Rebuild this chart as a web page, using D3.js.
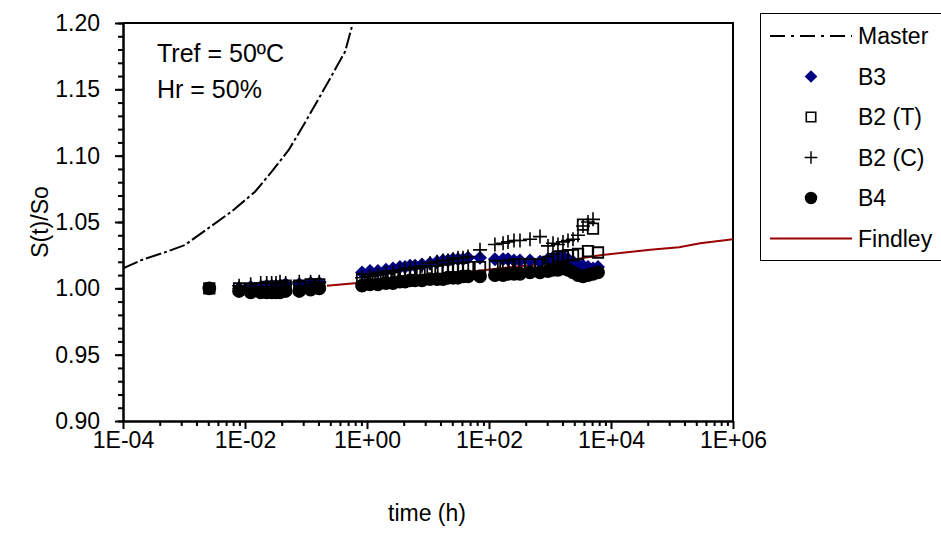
<!DOCTYPE html>
<html>
<head>
<meta charset="utf-8">
<script src="https://cdn.jsdelivr.net/npm/d3@7.9.0/dist/d3.min.js"></script>
<style>
  body { margin: 0; background: #fff; }
  svg { display: block; font-family: "Liberation Sans", Arial, sans-serif; }
</style>
</head>
<body>
<svg id="chart" width="941" height="556"></svg>
<script>
// ---- data ----
const xTickLabels = ['1E-04', '1E-02', '1E+00', '1E+02', '1E+04', '1E+06'];
const xTickValues = [1e-4, 1e-2, 1, 1e2, 1e4, 1e6];
const yTickValues = [0.90, 0.95, 1.00, 1.05, 1.10, 1.15, 1.20];

const masterTime  = [1e-4, 2.03e-4, 4.9e-4, 1.04e-3, 2.5e-3, 6.0e-3, 0.0146, 0.0274, 0.052, 0.085, 0.141, 0.232, 0.437, 0.575, 0.62];
const masterValue = [1.015, 1.0214, 1.0272, 1.0327, 1.0453, 1.0578, 1.0728, 1.0879, 1.1043, 1.1206, 1.1382, 1.1558, 1.1784, 1.1985, 1.2045];

const findleyTime  = [0.22, 0.7, 10, 240, 1040, 6600, 44000, 130000, 290000, 1e6];
const findleyValue = [1.002, 1.004, 1.009, 1.016, 1.019, 1.025, 1.029, 1.031, 1.034, 1.037];

// measurement times of the three groups of tests
const timeFirst = [0.0026];
const timeG1 = [0.008, 0.0124, 0.0181, 0.0227, 0.0274, 0.0322, 0.0375, 0.0464, 0.0776, 0.119, 0.165];
const timeG2 = [0.83, 1.12, 1.51, 2.05, 2.67, 3.47, 4.2, 5.07, 6.12, 7.98, 10.8, 14.1, 17.6, 21.3, 25.7, 31.0, 37.5, 45.3, 71.2, 125, 170, 205, 257, 322, 470, 686];
const timeG3 = [927, 1120, 1352, 1633, 1972, 2382, 2877, 3475, 4197, 5070, 6120];

const b3G1 = [1.000, 1.001, 1.001, 1.002, 1.002, 1.002, 1.002, 1.003, 1.003, 1.004, 1.004];
const b3G2 = [1.012, 1.013, 1.013, 1.014, 1.015, 1.016, 1.016, 1.017, 1.017, 1.018, 1.019, 1.020, 1.021, 1.021, 1.022, 1.022, 1.022, 1.023, 1.023, 1.022, 1.022, 1.022, 1.021, 1.021, 1.021, 1.020];
const b3G3 = [1.022, 1.023, 1.024, 1.024, 1.022, 1.020, 1.018, 1.017, 1.016, 1.015, 1.016];

const b2tFirst = [1.000];
const b2tG1 = [1.000, 1.000, 1.000, 1.001, 1.001, 1.001, 1.001, 1.002, 1.002, 1.003, 1.003];
const b2tG2 = [1.007, 1.007, 1.008, 1.009, 1.009, 1.010, 1.010, 1.011, 1.011, 1.012, 1.013, 1.013, 1.014, 1.014, 1.015, 1.015, 1.015, 1.016, 1.016, 1.017, 1.017, 1.017, 1.018, 1.018, 1.018, 1.018];
const b2tG3 = [1.020, 1.022, 1.024, 1.024, 1.025, 1.025, 1.026, 1.048, 1.028, 1.045, 1.027];

const b2cG1 = [1.002, 1.003, 1.004, 1.004, 1.004, 1.004, 1.005, 1.004, 1.005, 1.005, 1.005];
const b2cG2 = [1.008, 1.009, 1.010, 1.011, 1.012, 1.014, 1.015, 1.015, 1.016, 1.017, 1.019, 1.020, 1.021, 1.021, 1.022, 1.023, 1.023, 1.024, 1.029, 1.033, 1.034, 1.035, 1.036, 1.036, 1.037, 1.039];
const b2cG3 = [1.032, 1.034, 1.033, 1.035, 1.036, 1.037, 1.040, 1.047, 1.050, 1.052];

const b4First = [1.000];
const b4G1 = [0.998, 0.997, 0.997, 0.997, 0.997, 0.997, 0.997, 0.998, 0.998, 0.999, 1.000];
const b4G2 = [1.002, 1.003, 1.003, 1.004, 1.004, 1.005, 1.005, 1.006, 1.006, 1.006, 1.007, 1.007, 1.007, 1.008, 1.008, 1.008, 1.009, 1.009, 1.009, 1.010, 1.010, 1.011, 1.011, 1.011, 1.012, 1.012];
const b4G3 = [1.013, 1.014, 1.014, 1.015, 1.014, 1.012, 1.010, 1.009, 1.010, 1.011, 1.012];

// ---- helpers ----
function pairs(times, values) {
  return values.map((v, i) => ({ t: times[i], v: v }));
}

const master  = pairs(masterTime, masterValue);
const findley = pairs(findleyTime, findleyValue);
const b3  = [].concat(pairs(timeG1, b3G1), pairs(timeG2, b3G2), pairs(timeG3, b3G3));
const b2t = [].concat(pairs(timeFirst, b2tFirst), pairs(timeG1, b2tG1), pairs(timeG2, b2tG2), pairs(timeG3, b2tG3));
const b2c = [].concat(pairs(timeG1, b2cG1), pairs(timeG2, b2cG2), pairs(timeG3, b2cG3));
const b4  = [].concat(pairs(timeFirst, b4First), pairs(timeG1, b4G1), pairs(timeG2, b4G2), pairs(timeG3, b4G3));

const FONT = 23;
const plot = { left: 123, right: 733, top: 23, bottom: 421 };

const svg = d3.select('#chart');

const x = d3.scaleLog().domain([1e-4, 1e6]).range([plot.left, plot.right]);
const y = d3.scaleLinear().domain([0.9, 1.2]).range([plot.bottom, plot.top]);

// minor ticks: Excel-style, at k^2 inside each 2-decade step
const xMinor = [];
xTickValues.slice(0, -1).forEach(lo => {
  for (let k = 2; k <= 9; k++) xMinor.push(lo * k * k);
});
const yMinor = d3.range(0, 31).map(i => +(0.9 + i * 0.01).toFixed(2));

svg.append('clipPath').attr('id', 'clip')
  .append('rect')
  .attr('x', plot.left).attr('y', plot.top)
  .attr('width', plot.right - plot.left).attr('height', plot.bottom - plot.top);

// axes
const xMinorAxis = svg.append('g')
  .attr('transform', `translate(0,${plot.bottom})`)
  .call(d3.axisBottom(x).tickValues(xMinor).tickFormat('').tickSize(5).tickSizeOuter(0));
const xAxis = svg.append('g')
  .attr('transform', `translate(0,${plot.bottom})`)
  .call(d3.axisBottom(x).tickValues(xTickValues)
    .tickFormat((d, i) => xTickLabels[i]).tickSize(8).tickPadding(3).tickSizeOuter(0));

const yMinorAxis = svg.append('g')
  .attr('transform', `translate(${plot.left},0)`)
  .call(d3.axisLeft(y).tickValues(yMinor).tickFormat('').tickSize(5).tickSizeOuter(0));
const yAxis = svg.append('g')
  .attr('transform', `translate(${plot.left},0)`)
  .call(d3.axisLeft(y).tickValues(yTickValues)
    .tickFormat(d3.format('.2f')).tickSize(8).tickPadding(15).tickSizeOuter(0));

[xMinorAxis, xAxis, yMinorAxis, yAxis].forEach(g => {
  g.select('.domain').attr('stroke', '#000').attr('stroke-width', 2);
  g.selectAll('.tick line').attr('stroke', '#000').attr('stroke-width', 2);
  g.selectAll('.tick text')
    .attr('fill', '#000')
    .style('font-size', FONT + 'px')
    .style('font-family', '"Liberation Sans", Arial, sans-serif');
});

// top and right frame
svg.append('path')
  .attr('d', `M${plot.left},${plot.top}H${plot.right}V${plot.bottom}`)
  .attr('fill', 'none').attr('stroke', '#000').attr('stroke-width', 2);

// axis titles
svg.append('text')
  .attr('x', 427).attr('y', 521)
  .attr('text-anchor', 'middle')
  .style('font-size', FONT + 'px')
  .text('time (h)');
svg.append('text')
  .attr('transform', 'translate(48,222) rotate(-90)')
  .attr('text-anchor', 'middle')
  .style('font-size', FONT + 'px')
  .text('S(t)/So');

// annotation
svg.append('text').attr('x', 157).attr('y', 62).style('font-size', '25px').text('Tref = 50ºC');
svg.append('text').attr('x', 157).attr('y', 98).style('font-size', '25px').text('Hr = 50%');

// ---- series ----
const plotArea = svg.append('g').attr('clip-path', 'url(#clip)');
const line = d3.line().x(d => x(d.t)).y(d => y(d.v));

plotArea.append('path')
  .datum(master)
  .attr('d', line)
  .attr('fill', 'none')
  .attr('stroke', '#000')
  .attr('stroke-width', 2)
  .attr('stroke-dasharray', '16,3,3,3');

plotArea.append('path')
  .datum(findley)
  .attr('d', line)
  .attr('fill', 'none')
  .attr('stroke', '#990000')
  .attr('stroke-width', 2);

const diamond = d3.symbol(d3.symbolSquare, 98)();
const square = d3.symbol(d3.symbolSquare, 110)();
const circle = d3.symbol(d3.symbolCircle, 150)();
const plus = 'M-7,0H7M0,-7V7';

function drawMarkers(data, shape, style) {
  const sel = plotArea.append('g').selectAll('path')
    .data(data)
    .join('path')
    .attr('d', shape)
    .attr('transform', d => `translate(${x(d.t)},${y(d.v)})` + (style.rotate ? ' rotate(45)' : ''));
  sel.attr('fill', style.fill).attr('stroke', style.stroke).attr('stroke-width', style.width);
}

const styleB3 = { fill: '#000080', stroke: 'none', width: 0, rotate: true };
const styleB2t = { fill: 'none', stroke: '#000', width: 1.8 };
const styleB2c = { fill: 'none', stroke: '#000', width: 1.6 };
const styleB4 = { fill: '#000', stroke: 'none', width: 0 };

drawMarkers(b3, diamond, styleB3);
drawMarkers(b2t, square, styleB2t);
drawMarkers(b2c, plus, styleB2c);
drawMarkers(b4, circle, styleB4);

// ---- legend ----
const legend = svg.append('g');
legend.append('rect')
  .attr('x', 760.5).attr('y', 13.5)
  .attr('width', 200).attr('height', 247)
  .attr('fill', '#fff').attr('stroke', '#000').attr('stroke-width', 1);

const legendItems = ['Master', 'B3', 'B2 (T)', 'B2 (C)', 'B4', 'Findley'];
const legendShapes = { 'B3': [diamond, styleB3], 'B2 (T)': [square, styleB2t], 'B2 (C)': [plus, styleB2c], 'B4': [circle, styleB4] };
legendItems.forEach((name, i) => {
  const ly = 36 + i * 40.5;
  const g = legend.append('g');
  if (name === 'Master') {
    g.append('line').attr('x1', 770).attr('x2', 852).attr('y1', ly).attr('y2', ly)
      .attr('stroke', '#000').attr('stroke-width', 2).attr('stroke-dasharray', '15,6,3,6');
  } else if (name === 'Findley') {
    g.append('line').attr('x1', 770).attr('x2', 852).attr('y1', ly).attr('y2', ly)
      .attr('stroke', '#990000').attr('stroke-width', 2);
  } else {
    const [shape, st] = legendShapes[name];
    g.append('path').attr('d', shape)
      .attr('transform', `translate(811,${ly})` + (st.rotate ? ' rotate(45) scale(0.9)' : ' scale(0.9)'))
      .attr('fill', st.fill === 'none' ? '#fff' : st.fill)
      .attr('stroke', st.stroke).attr('stroke-width', st.width);
  }
  g.append('text')
    .attr('x', 858).attr('y', ly)
    .attr('dy', '0.36em')
    .style('font-size', FONT + 'px')
    .text(name);
});
</script>
</body>
</html>
